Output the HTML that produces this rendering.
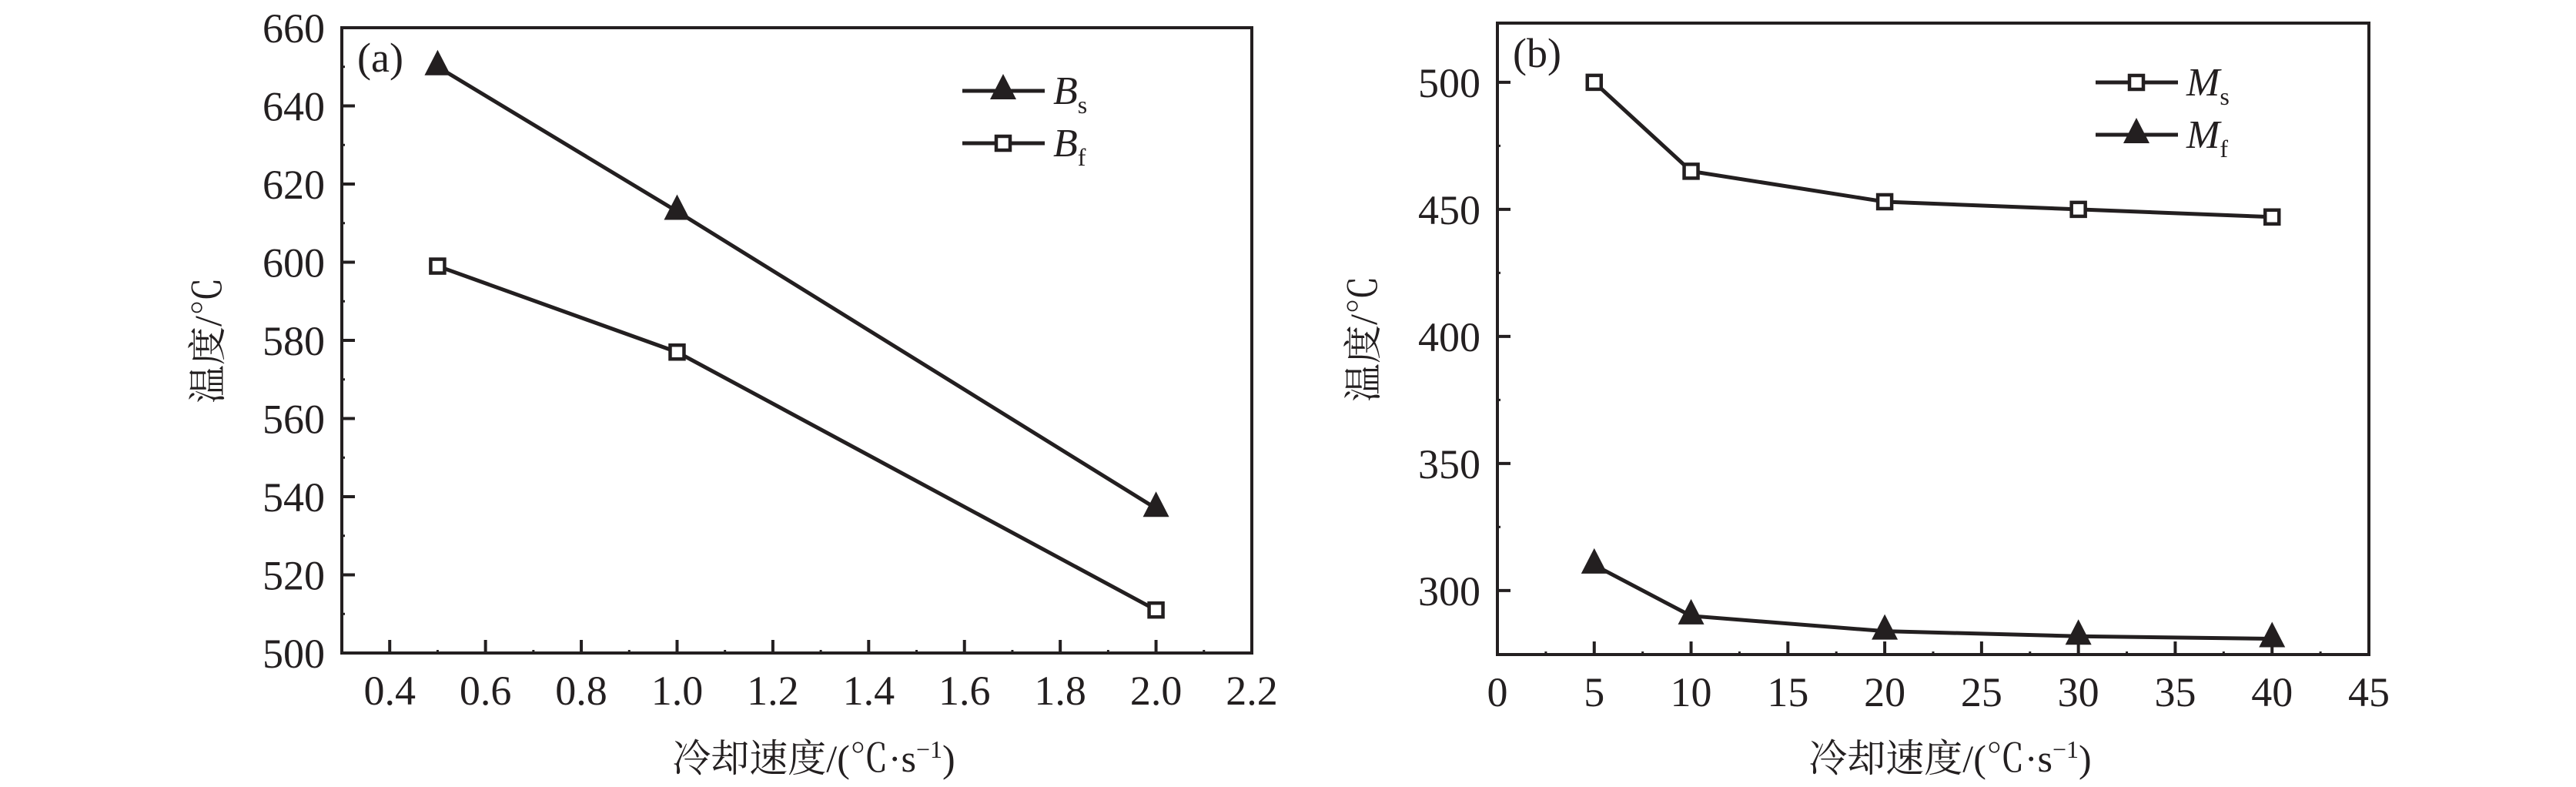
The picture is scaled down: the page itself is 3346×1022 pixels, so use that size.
<!DOCTYPE html>
<html><head><meta charset="utf-8"><style>
html,body{margin:0;padding:0;background:#fff;}
svg{display:block;}
text{fill:#231f20;}
.tk{font-family:"Liberation Serif",serif;font-size:54px;}
.ttl{font-family:"Liberation Serif","Noto Serif CJK SC",serif;font-size:50px;}
</style></head><body>
<svg id="chart" width="3346" height="1022" viewBox="0 0 3346 1022" xmlns="http://www.w3.org/2000/svg">
<g id="pa"></g>
<g id="pb"></g>
</svg>
<script>
// Panel (a)
const aCats = [0.5, 1.0, 2.0];
const aBs = [650, 613, 537];
const aBf = [599, 577, 511];
const aXTicks = [0.4, 0.6, 0.8, 1.0, 1.2, 1.4, 1.6, 1.8, 2.0, 2.2];
const aXLabels = ["0.4","0.6","0.8","1.0","1.2","1.4","1.6","1.8","2.0","2.2"];
const aYTicks = [500, 520, 540, 560, 580, 600, 620, 640, 660];
// Panel (b)
const bCats = [5, 10, 20, 30, 40];
const bMs = [500, 465, 453, 450, 447];
const bMf = [310, 290, 284, 282, 281];
const bXTicks = [0, 5, 10, 15, 20, 25, 30, 35, 40, 45];
const bYTicks = [300, 350, 400, 450, 500];

const NS = "http://www.w3.org/2000/svg";
function mk(parent, tag, attrs, txt) {
  const e = document.createElementNS(NS, tag);
  for (const k in attrs) e.setAttribute(k, attrs[k]);
  if (txt !== undefined) e.textContent = txt;
  parent.appendChild(e);
  return e;
}
const C = "#231f20";

function panel(g, cfg) {
  const X = v => cfg.L + (v - cfg.x0) / (cfg.x1 - cfg.x0) * (cfg.R - cfg.L);
  const Y = v => cfg.B - (v - cfg.y0) / (cfg.y1 - cfg.y0) * (cfg.B - cfg.T);
  cfg.xTicks.forEach((v, i) => {
    const t = mk(g, "line", {x1: X(v), x2: X(v), y1: cfg.B, y2: cfg.B - 17, stroke: C, "stroke-width": 4});
    
    
    const l = mk(g, "text", {x: X(v), y: cfg.B + 67, "text-anchor": "middle", class: "tk"}, cfg.xLabels[i]);
    
    
    if (i < cfg.xTicks.length - 1) {
      const mv = (v + cfg.xTicks[i + 1]) / 2;
      const m = mk(g, "line", {x1: X(mv), x2: X(mv), y1: cfg.B, y2: cfg.B - 4, stroke: C, "stroke-width": 3});
      
      
    }
  });
  cfg.yTicks.forEach((v, i) => {
    const t = mk(g, "line", {x1: cfg.L, x2: cfg.L + 17, y1: Y(v), y2: Y(v), stroke: C, "stroke-width": 4});
    
    
    const l = mk(g, "text", {x: cfg.L - 22, y: Y(v) + 19, "text-anchor": "end", class: "tk"}, String(v));
    
    
    const mv = v + cfg.yStep / 2;
    if (Y(mv) > cfg.T + 5) {
      const m = mk(g, "line", {x1: cfg.L, x2: cfg.L + 4, y1: Y(mv), y2: Y(mv), stroke: C, "stroke-width": 3});
      
      
    }
  });
  const box = mk(g, "rect", {x: cfg.L, y: cfg.T, width: cfg.R - cfg.L, height: cfg.B - cfg.T, fill: "none", stroke: C, "stroke-width": 4});
  
  
  cfg.series.forEach(s => {
    const sg = mk(g, "g", {});
    
    
    const pts = cfg.cats.map((c, i) => X(c) + "," + Y(s.vals[i])).join(" ");
    const pl = mk(sg, "polyline", {points: pts, fill: "none", stroke: C, "stroke-width": 5});
    
    
    cfg.cats.forEach((c, i) => {
      const m = marker(sg, s.mk, X(c), Y(s.vals[i]));
      
      
    });
  });
  cfg.series.forEach((s, i) => {
    const ly = cfg.legY[i];
    const lg = mk(g, "g", {});
    
    
    mk(lg, "line", {x1: cfg.legX, x2: cfg.legX + 107, y1: ly, y2: ly, stroke: C, "stroke-width": 5});
    marker(lg, s.mk, cfg.legX + 53, ly);
    const t = mk(lg, "text", {x: cfg.legX + 118, y: ly + 17, style: "font-family:'Liberation Serif',serif;font-size:52px;font-style:italic"}, s.sym);
    mk(t, "tspan", {dy: 12, style: "font-style:normal;font-size:32px"}, s.sub);
  });
  const pl = mk(g, "text", {x: cfg.L + 20, y: cfg.T + 57, class: "tk"}, cfg.label);
  
  
  const xt = mk(g, "text", {x: (cfg.L + cfg.R) / 2 + 22, y: 1002, "text-anchor": "middle", class: "ttl"}, "冷却速度/(℃·s");
  mk(xt, "tspan", {dy: -18, style: "font-size:32px"}, "−1");
  mk(xt, "tspan", {dy: 18}, ")");
  
  
  const yt = mk(g, "text", {x: 0, y: 0, "text-anchor": "middle", class: "ttl", transform: `translate(${cfg.L - 157},${(cfg.T + cfg.B) / 2}) rotate(-90)`}, "温度/℃");
  
  
}
function marker(g, type, x, y) {
  if (type === "tri") {
    return mk(g, "polygon", {points: `${x},${y - 22} ${x - 17},${y + 11} ${x + 17},${y + 11}`, fill: C});
  }
  return mk(g, "rect", {x: x - 9, y: y - 9, width: 18, height: 18, fill: "#fff", stroke: C, "stroke-width": 4.5});
}

panel(document.getElementById("pa"), {
  L: 444, R: 1626, T: 36, B: 848, x0: 0.3, x1: 2.2, y0: 500, y1: 660, yStep: 20,
  cats: aCats, xTicks: aXTicks, xLabels: aXLabels, yTicks: aYTicks, label: "(a)",
  legX: 1250, legY: [118, 186],
  series: [{name: "series-bs", vals: aBs, mk: "tri", sym: "B", sub: "s"},
           {name: "series-bf", vals: aBf, mk: "sq", sym: "B", sub: "f"}]
});
panel(document.getElementById("pb"), {
  L: 1945, R: 3077, T: 30, B: 850, x0: 0, x1: 45, y0: 274.8, y1: 523.3, yStep: 50,
  cats: bCats, xTicks: bXTicks, xLabels: bXTicks.map(String), yTicks: bYTicks, label: "(b)",
  legX: 2722, legY: [107, 175],
  series: [{name: "series-ms", vals: bMs, mk: "sq", sym: "M", sub: "s"},
           {name: "series-mf", vals: bMf, mk: "tri", sym: "M", sub: "f"}]
});
</script>
</body></html>
